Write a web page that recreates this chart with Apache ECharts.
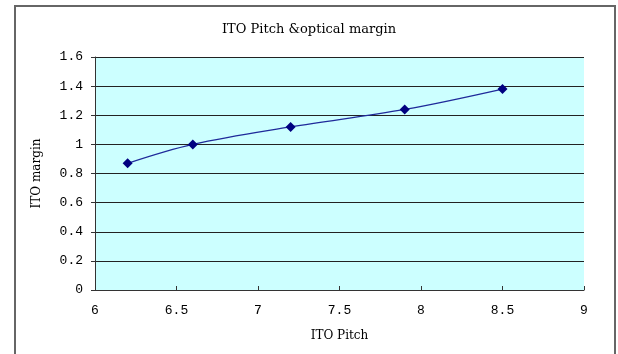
<!DOCTYPE html>
<html>
<head>
<meta charset="utf-8">
<script src="https://cdn.jsdelivr.net/npm/echarts@6/dist/echarts.min.js"></script>
<style>
  html, body { margin: 0; padding: 0; background: #fff; }
  #chart { width: 618px; height: 354px; }
</style>
</head>
<body>
<div id="chart"></div>
<script>
// ITO pitch vs. optical margin measurements
const pitch = [6.2, 6.6, 7.2, 7.9, 8.5];
const margin = [0.87, 1.0, 1.12, 1.24, 1.38];
const xTicks = { min: 6, max: 9, step: 0.5 };
const yTicks = { min: 0, max: 1.6, step: 0.2 };

const chart = echarts.init(document.getElementById('chart'), null, { renderer: 'canvas' });
const tickFont = { fontFamily: 'Liberation Mono', fontSize: 13, color: '#000' };
const nameFont = { fontFamily: 'DejaVu Serif', fontSize: 12, color: '#000' };

chart.setOption({
  animation: false,
  backgroundColor: '#fff',
  title: {
    text: 'ITO Pitch &optical margin',
    left: 'center',
    top: 18,
    textStyle: Object.assign({ fontWeight: 'normal' }, nameFont, { fontSize: 13 })
  },
  graphic: [{
    type: 'rect',
    shape: { x: 15, y: 6, width: 600, height: 360 },
    style: { fill: 'none', stroke: '#666', lineWidth: 2 },
    silent: true
  }],
  grid: { left: 95, top: 57, right: 34, bottom: 64, show: true, backgroundColor: '#ccffff', borderWidth: 0 },
  xAxis: {
    type: 'value',
    min: xTicks.min, max: xTicks.max, interval: xTicks.step,
    name: 'ITO Pitch',
    nameLocation: 'middle',
    nameGap: 40,
    nameTextStyle: nameFont,
    axisLine: { lineStyle: { color: '#333', width: 1 } },
    axisTick: { inside: true, length: 4, lineStyle: { color: '#333' } },
    axisLabel: Object.assign({ margin: 14 }, tickFont),
    splitLine: { show: false }
  },
  yAxis: {
    type: 'value',
    min: yTicks.min, max: yTicks.max, interval: yTicks.step,
    name: 'ITO margin',
    nameLocation: 'middle',
    nameGap: 52,
    nameTextStyle: nameFont,
    axisLine: { show: true, lineStyle: { color: '#333', width: 1 } },
    axisTick: { show: true, length: 4, lineStyle: { color: '#333' } },
    axisLabel: Object.assign({ margin: 12 }, tickFont),
    splitLine: { show: true, lineStyle: { color: '#222', width: 1 } }
  },
  series: [{
    type: 'line',
    data: pitch.map((p, i) => [p, margin[i]]),
    smooth: 0.35,
    symbol: 'diamond',
    symbolSize: 10,
    itemStyle: { color: '#000080' },
    lineStyle: { color: '#1f2a9a', width: 1.3 }
  }]
});
</script>
</body>
</html>
